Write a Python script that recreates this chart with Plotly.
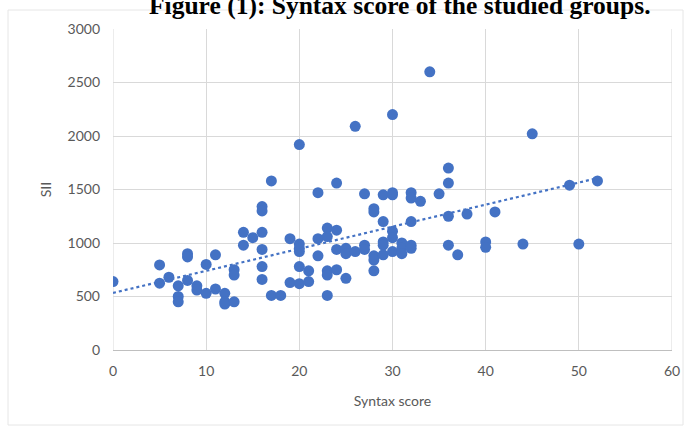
import numpy as np
import plotly.graph_objects as go

# Syntax score (x) and SII (y) per patient
syntax_score = [
    0,
    5, 5, 6, 7, 7, 7, 8, 8, 8, 9, 9, 10, 10, 11, 11, 12, 12, 12, 13, 13, 13,
    14, 14, 15, 16, 16, 16, 16, 16, 16, 17, 17, 18, 19, 19,
    20, 20, 20, 20, 20, 20, 21, 21, 22, 22, 22, 23, 23, 23, 23, 23,
    24, 24, 24, 24, 25, 25, 25, 26, 26, 27, 27, 27, 28, 28, 28, 28, 28,
    29, 29, 29, 29, 29, 30, 30, 30, 30, 30, 30, 31, 31, 31,
    32, 32, 32, 32, 32, 33, 34, 35, 36, 36, 36, 36, 37, 38, 40, 40, 41,
    44, 45, 49, 50, 52,
]
sii = [
    640,
    795, 625, 680, 600, 500, 450, 900, 870, 650, 600, 560, 800, 530, 890, 570, 530, 450, 430, 750, 700, 450,
    1100, 980, 1050, 1340, 1300, 1100, 940, 780, 660, 1580, 510, 510, 1040, 630,
    1920, 990, 950, 920, 780, 620, 740, 640, 1470, 1040, 880, 1140, 1060, 740, 700, 510,
    1560, 1120, 940, 750, 950, 900, 670, 2090, 920, 1460, 980, 940, 1320, 1290, 880, 840, 740,
    1450, 1200, 1010, 980, 890, 2200, 1470, 1450, 1110, 1050, 920, 1000, 950, 900,
    1470, 1420, 1200, 980, 950, 1390, 2600, 1460, 1700, 1560, 1250, 980, 890, 1270, 1010, 960, 1290,
    990, 2020, 1540, 990, 1580,
]

title_text = "Figure (1): Syntax score of the studied groups."
x_title = "Syntax score"
y_title = "SII"

blue = "#4472C4"
grey_text = "#595959"
grid = "#D9D9D9"

# Linear trendline over the observed range
slope, intercept = np.polyfit(syntax_score, sii, 1)
tx = np.array([0, max(syntax_score)])
ty = slope * tx + intercept

fig = go.Figure()
fig.add_trace(go.Scatter(
    x=syntax_score, y=sii, mode="markers",
    marker=dict(color=blue, size=11, line=dict(width=0)),
    showlegend=False, hoverinfo="x+y",
))
fig.add_trace(go.Scatter(
    x=tx, y=ty, mode="lines",
    line=dict(color=blue, width=2.2, dash="dot"),
    showlegend=False, hoverinfo="skip",
))

axis_font = dict(family="Lato, Open Sans, sans-serif", size=14, color=grey_text)

fig.update_layout(
    width=694, height=432,
    margin=dict(l=113, r=22, t=29, b=82),
    paper_bgcolor="white", plot_bgcolor="white",
    font=axis_font,
    xaxis=dict(
        range=[0, 60], dtick=10, showgrid=True, gridcolor=grid, gridwidth=1,
        zeroline=False, showline=True, linecolor="#BFBFBF", linewidth=1,
        ticks="", tickfont=axis_font, ticklabelstandoff=8,
        title=dict(text=x_title, font=axis_font, standoff=18),
        fixedrange=True,
    ),
    yaxis=dict(
        range=[0, 3000], dtick=500, showgrid=True, gridcolor=grid, gridwidth=1,
        zeroline=False, showline=False, ticks="", tickfont=axis_font,
        ticklabelstandoff=12,
        title=dict(text=y_title, font=axis_font, standoff=12),
        fixedrange=True,
    ),
    shapes=[
        # vertical gridline at x=0 and right edge
        dict(type="line", xref="x", yref="paper", x0=0, x1=0, y0=0, y1=1,
             line=dict(color=grid, width=1), layer="below"),
        dict(type="line", xref="x", yref="paper", x0=60, x1=60, y0=0, y1=1,
             line=dict(color=grid, width=1), layer="below"),
        # outer chart frame
        dict(type="rect", xref="paper", yref="paper",
             x0=-105 / 559, x1=1 + 11 / 559, y0=-75 / 321, y1=1 + 19 / 321,
             line=dict(color="#E6E6E6", width=1), fillcolor="rgba(0,0,0,0)",
             layer="below"),
    ],
    annotations=[
        dict(text=f"<b>{title_text}</b>", xref="paper", yref="paper",
             x=(400 - 113) / 559, y=1 + (29 - 22) / 321,
             xanchor="center", yanchor="bottom", showarrow=False,
             font=dict(family="Liberation Serif, Times New Roman, serif",
                       size=25.5, color="black")),
    ],
)

fig.write_html("out.html")
